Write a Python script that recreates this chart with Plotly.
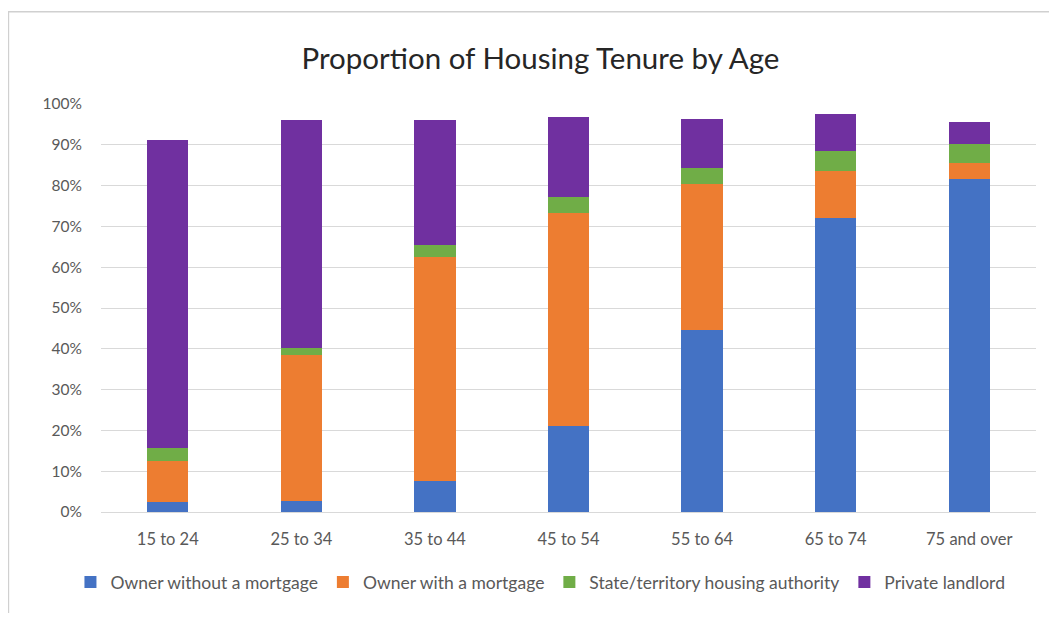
import plotly.graph_objects as go

# Age groups and tenure shares (fraction of households)
age_groups = ['15 to 24', '25 to 34', '35 to 44', '45 to 54', '55 to 64', '65 to 74', '75 and over']
owner_outright = [0.025, 0.026, 0.075, 0.210, 0.446, 0.721, 0.817]
owner_mortgage = [0.101, 0.359, 0.550, 0.524, 0.357, 0.114, 0.038]
state_housing = [0.031, 0.018, 0.029, 0.037, 0.039, 0.051, 0.046]
private_landlord = [0.754, 0.557, 0.307, 0.197, 0.122, 0.089, 0.056]

series = [
    ('Owner without a mortgage', owner_outright, '#4472C4'),
    ('Owner with a mortgage', owner_mortgage, '#ED7D31'),
    ('State/territory housing authority', state_housing, '#70AD47'),
    ('Private landlord', private_landlord, '#7030A0'),
]

font_family = 'Lato, Open Sans, sans-serif'

fig = go.Figure()
for name, values, color in series:
    fig.add_trace(go.Bar(
        x=age_groups,
        y=values,
        name=name,
        marker=dict(color=color, line=dict(width=0)),
        hovertemplate='%{x}<br>' + name + ': %{y:.1%}<extra></extra>'
    ))

# page body adds an 8px offset, so the figure is a bit smaller than the window
fig.update_layout(
    barmode='stack',
    bargap=0.69,
    width=1041, height=605,
    margin=dict(l=93, r=13, t=95.5, b=100.5),
    paper_bgcolor='white',
    plot_bgcolor='white',
    font=dict(family=font_family, color='#595959', size=15),
    title=dict(
        text='Proportion of Housing Tenure by Age',
        x=0.5115, xanchor='center',
        y=0.917, yanchor='middle',
        font=dict(size=29.5, color='#262626', family=font_family)
    ),
    legend=dict(
        orientation='h',
        x=0.470, xanchor='center',
        y=-0.172, yanchor='middle',
        font=dict(size=17.5, color='#595959'),
        traceorder='normal',
        itemwidth=30,
    ),
    showlegend=True,
)

fig.update_yaxes(
    range=[0, 1],
    tick0=0, dtick=0.1,
    tickformat='.0%',
    showgrid=True, gridcolor='#D9D9D9', gridwidth=1,
    zeroline=False,
    showline=False,
    ticks='',
    ticklabelstandoff=18,
    tickfont=dict(size=15.5, color='#595959'),
)
fig.update_xaxes(
    showline=True, linecolor='#D9D9D9', linewidth=1,
    ticks='',
    ticklabelstandoff=12,
    tickfont=dict(size=16.5, color='#595959'),
)

# light chart frame, cropped on the right and bottom as in the screenshot
fig.add_shape(
    type='rect', xref='paper', yref='paper',
    x0=-0.099, x1=1.2, y0=-0.4, y1=1.226,
    line=dict(color='#D0D0D0', width=1.5),
    fillcolor='rgba(0,0,0,0)', layer='below'
)

fig.write_html('out.html')
